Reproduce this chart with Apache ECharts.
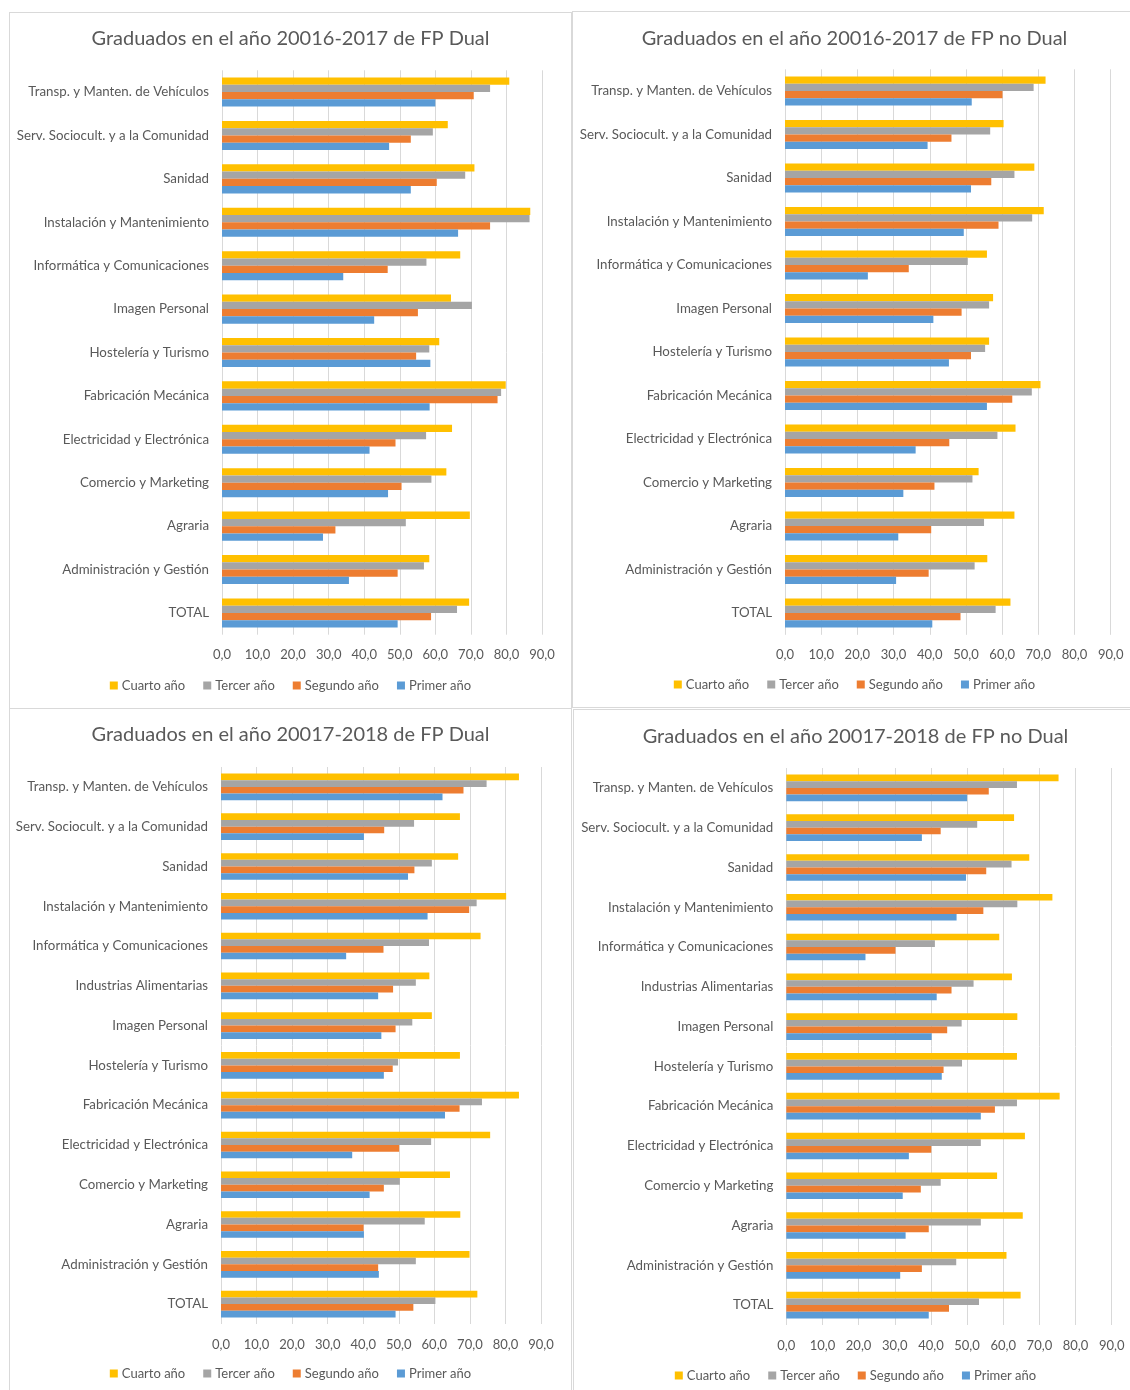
<!DOCTYPE html>
<html>
<head>
<meta charset="utf-8">
<script src="https://cdn.jsdelivr.net/npm/echarts@6/dist/echarts.min.js"></script>
<style>
  html, body { margin: 0; padding: 0; background: #ffffff; }
  body { width: 1130px; height: 1390px; position: relative; overflow: hidden; }
  .panel { position: absolute; box-sizing: border-box; border: 1px solid #d9d9d9; background: #fff; }
  .chart { position: absolute; left: 0; top: 0; right: 0; bottom: 0; }
</style>
</head>
<body>
<div class="panel" id="p1" style="left:9px;top:12px;width:563px;height:697px;"><div class="chart" id="c1"></div></div>
<div class="panel" id="p2" style="left:572px;top:11px;width:565px;height:697px;"><div class="chart" id="c2"></div></div>
<div class="panel" id="p3" style="left:9px;top:708px;width:563px;height:700px;"><div class="chart" id="c3"></div></div>
<div class="panel" id="p4" style="left:573px;top:709px;width:565px;height:700px;"><div class="chart" id="c4"></div></div>
<script>
// ---- Categories ----
const categories1617 = [
  "Transp. y Manten. de Vehículos",
  "Serv. Sociocult. y a la Comunidad",
  "Sanidad",
  "Instalación y Mantenimiento",
  "Informática y Comunicaciones",
  "Imagen Personal",
  "Hostelería y Turismo",
  "Fabricación Mecánica",
  "Electricidad y Electrónica",
  "Comercio y Marketing",
  "Agraria",
  "Administración y Gestión",
  "TOTAL"
];
const categories1718 = [
  "Transp. y Manten. de Vehículos",
  "Serv. Sociocult. y a la Comunidad",
  "Sanidad",
  "Instalación y Mantenimiento",
  "Informática y Comunicaciones",
  "Industrias Alimentarias",
  "Imagen Personal",
  "Hostelería y Turismo",
  "Fabricación Mecánica",
  "Electricidad y Electrónica",
  "Comercio y Marketing",
  "Agraria",
  "Administración y Gestión",
  "TOTAL"
];
const seriesNames = ["Cuarto año", "Tercer año", "Segundo año", "Primer año"];
const xTicks = [0, 10, 20, 30, 40, 50, 60, 70, 80, 90];

// ---- FP Dual 2016-2017 ----
const dual1617Cuarto  = [80.8, 63.5, 71.0, 86.7, 67.0, 64.4, 61.1, 79.8, 64.7, 63.1, 69.7, 58.3, 69.5];
const dual1617Tercer  = [75.4, 59.3, 68.4, 86.5, 57.5, 70.3, 58.3, 78.5, 57.4, 58.9, 51.7, 56.8, 66.1];
const dual1617Segundo = [70.8, 53.1, 60.4, 75.4, 46.6, 55.1, 54.6, 77.5, 48.8, 50.5, 31.9, 49.4, 58.8];
const dual1617Primer  = [60.0, 47.0, 53.1, 66.4, 34.1, 42.8, 58.6, 58.4, 41.5, 46.7, 28.4, 35.7, 49.4];

// ---- FP no Dual 2016-2017 ----
const noDual1617Cuarto  = [72.0, 60.4, 68.9, 71.5, 55.8, 57.5, 56.4, 70.6, 63.7, 53.5, 63.4, 55.9, 62.3];
const noDual1617Tercer  = [68.7, 56.7, 63.4, 68.3, 50.5, 56.4, 55.3, 68.2, 58.7, 51.8, 55.0, 52.4, 58.2];
const noDual1617Segundo = [60.1, 46.0, 57.0, 59.0, 34.2, 48.8, 51.4, 62.8, 45.4, 41.3, 40.4, 39.7, 48.5];
const noDual1617Primer  = [51.6, 39.4, 51.4, 49.4, 22.9, 41.0, 45.3, 55.8, 36.1, 32.7, 31.3, 30.7, 40.7];

// ---- FP Dual 2017-2018 ----
const dual1718Cuarto  = [83.8, 67.2, 66.7, 80.2, 73.0, 58.6, 59.3, 67.2, 83.8, 75.7, 64.4, 67.3, 69.9, 72.1];
const dual1718Tercer  = [74.7, 54.3, 59.3, 71.9, 58.5, 54.8, 53.8, 49.8, 73.4, 59.1, 50.3, 57.3, 54.8, 60.3];
const dual1718Segundo = [68.2, 45.9, 54.4, 69.8, 45.7, 48.4, 49.1, 48.3, 67.1, 50.1, 45.8, 40.1, 44.2, 54.1];
const dual1718Primer  = [62.3, 40.2, 52.6, 58.1, 35.2, 44.2, 45.1, 45.8, 63.0, 36.9, 41.8, 40.2, 44.4, 49.1];

// ---- FP no Dual 2017-2018 ----
const noDual1718Cuarto  = [75.3, 63.0, 67.2, 73.6, 58.9, 62.4, 63.9, 63.8, 75.6, 66.0, 58.3, 65.4, 60.9, 64.8];
const noDual1718Tercer  = [63.8, 52.8, 62.3, 63.9, 41.1, 51.8, 48.5, 48.6, 63.8, 53.8, 42.7, 53.8, 47.0, 53.3];
const noDual1718Segundo = [56.0, 42.7, 55.3, 54.5, 30.2, 45.7, 44.5, 43.5, 57.7, 40.1, 37.2, 39.4, 37.5, 45.0];
const noDual1718Primer  = [50.0, 37.5, 49.7, 47.1, 21.9, 41.6, 40.2, 43.0, 53.8, 33.9, 32.2, 33.0, 31.5, 39.4];

const colors = ["#FFC000", "#A5A5A5", "#ED7D31", "#5B9BD5"];
const FONT = "Lato, 'Open Sans', sans-serif";
const TEXT = "#595959";

function makeChart(elId, panel, title, cats, dataSets) {
  const el = document.getElementById(elId);
  const chart = echarts.init(el, null, { renderer: 'canvas' });
  const ox = panel.x, oy = panel.y;
  const option = {
    animation: false,
    color: colors,
    textStyle: { fontFamily: FONT },
    title: {
      text: title,
      left: 'center',
      top: panel.titleY - 9 - oy,
      padding: 0,
      textStyle: { fontFamily: FONT, fontSize: 20, fontWeight: 'normal', color: TEXT }
    },
    legend: {
      data: seriesNames,
      left: 'center',
      top: panel.legendY - 6 - oy,
      padding: 0,
      itemWidth: 8,
      itemHeight: 8,
      itemGap: 18,
      icon: 'rect',
      textStyle: { fontFamily: FONT, fontSize: 13, color: TEXT, padding: [0, 0, 0, -1] }
    },
    grid: {
      left: panel.x0 - ox,
      width: panel.x90 - panel.x0,
      top: panel.gTop - oy,
      height: panel.gBottom - panel.gTop,
      containLabel: false
    },
    xAxis: {
      type: 'value',
      min: xTicks[0],
      max: xTicks[xTicks.length - 1],
      interval: xTicks[1] - xTicks[0],
      axisLine: { show: false },
      axisTick: { show: false },
      splitLine: { show: true, lineStyle: { color: '#d9d9d9', width: 1 } },
      axisLabel: {
        color: TEXT, fontFamily: FONT, fontSize: 13, margin: 14,
        formatter: v => v.toFixed(1).replace('.', ',')
      }
    },
    yAxis: {
      type: 'category',
      data: cats,
      inverse: true,
      axisLine: { show: false },
      axisTick: { show: false },
      splitLine: { show: false },
      axisLabel: { color: TEXT, fontFamily: FONT, fontSize: 13.3, margin: 13 }
    },
    series: seriesNames.map((n, i) => ({
      name: n,
      type: 'bar',
      data: dataSets[i],
      barGap: '0%',
      barCategoryGap: '33%',
      itemStyle: { color: colors[i] }
    }))
  };
  chart.setOption(option);
  return chart;
}

makeChart('c1', { x: 10, y: 13, x0: 222, x90: 542, gTop: 70.3, gBottom: 634.7, titleY: 38, legendY: 685 },
  "Graduados en el año 20016-2017 de FP Dual", categories1617,
  [dual1617Cuarto, dual1617Tercer, dual1617Segundo, dual1617Primer]);

makeChart('c2', { x: 573, y: 12, x0: 785, x90: 1110.7, gTop: 69.3, gBottom: 634.8, titleY: 38, legendY: 684 },
  "Graduados en el año 20016-2017 de FP no Dual", categories1617,
  [noDual1617Cuarto, noDual1617Tercer, noDual1617Segundo, noDual1617Primer]);

makeChart('c3', { x: 10, y: 709, x0: 221, x90: 541, gTop: 767, gBottom: 1324, titleY: 734, legendY: 1373 },
  "Graduados en el año 20017-2018 de FP Dual", categories1718,
  [dual1718Cuarto, dual1718Tercer, dual1718Segundo, dual1718Primer]);

makeChart('c4', { x: 574, y: 710, x0: 786.3, x90: 1111.7, gTop: 768, gBottom: 1325, titleY: 736, legendY: 1375 },
  "Graduados en el año 20017-2018 de FP no Dual", categories1718,
  [noDual1718Cuarto, noDual1718Tercer, noDual1718Segundo, noDual1718Primer]);
</script>
</body>
</html>
